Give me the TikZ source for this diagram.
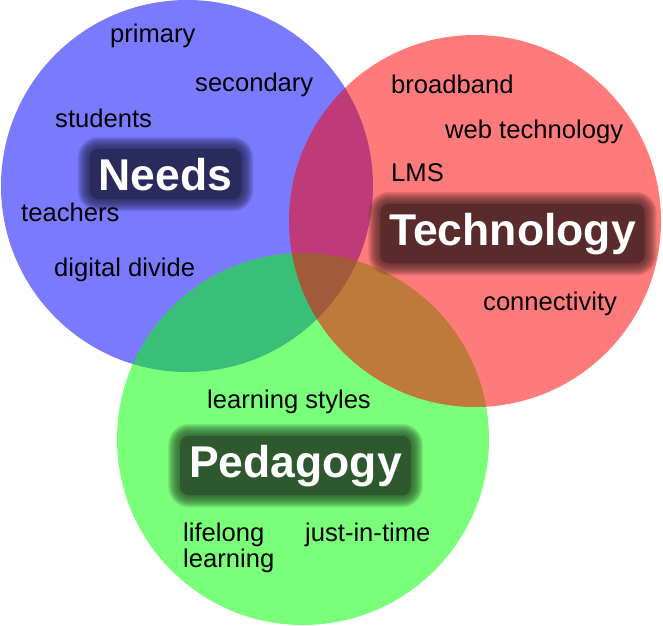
\documentclass[tikz,border=0pt]{standalone}
\usepackage{fontspec}
\setmainfont{Liberation Sans}
\usepackage{tikz}
\usetikzlibrary{calc}
\definecolor{qqqqff}{rgb}{0.,0.,1.}
\definecolor{ffqqqq}{rgb}{1.,0.,0.}
\definecolor{qqffqq}{rgb}{0.,1.,0.}
\definecolor{ddddnn}{rgb}{0.165,0.165,0.36}
\definecolor{nnddddr}{rgb}{0.35,0.17,0.17}
\definecolor{ddnnddg}{rgb}{0.18,0.35,0.18}
\newcommand{\titlefont}{\bfseries\fontsize{44.5}{50}\selectfont}
\newcommand{\glowword}[4]{%
  \foreach \g in {21,20,...,10}{%
    \node (#1\g) [anchor=base,inner sep=\g pt,rounded corners=\g pt,fill=#3,fill opacity=0.13,text opacity=0,font=\titlefont] at #2 {#4};
  }
  \node (#1core) [anchor=base,inner sep=9pt,rounded corners=9pt,fill=#3,text opacity=0,font=\titlefont] at #2 {#4};
  \node (#1) [anchor=base,inner sep=0pt,text=white,font=\titlefont] at #2 {#4};
}
\tikzstyle{every node}=[font=\fontsize{25.6}{29}\selectfont]
\tikzstyle{word}=[anchor=base west,inner sep=0pt]

\begin{document}
\begin{tikzpicture}[line cap=round,line join=round,x=1pt,y=1pt]
                \useasboundingbox (0,0) rectangle (663,625);
                \fill [color=qqqqff,fill opacity=0.52] (187,439) circle (186);
                \fill [color=qqffqq,fill opacity=0.52] (303,186) circle (186);
                \fill [color=ffqqqq,fill opacity=0.52] (475,404) circle (186);
                \glowword{needs}{(165.5,435)}{ddddnn}{Needs}
                \glowword{technology}{(512.5,380)}{nnddddr}{Technology}
                \glowword{pedagogy}{(295.5,148)}{ddnnddg}{Pedagogy}
                \node (primary) [word] at (110,582) {primary};
                \node (secondary) [word] at (195,533) {secondary};
                \node (students) [word] at (55,497) {students};
                \node (teachers) [word] at (21,404) {teachers};
                \node (divide) [word] at (54,349) {digital divide};
                \node (broadband) [word] at (391,531) {broadband};
                \node (web) [word] at (445,486) {web technology};
                \node (lms) [word] at (391,443) {LMS};
                \node (connectivity) [word] at (483,315) {connectivity};
                \node (styles) [word] at (207,217) {learning styles};
                \node (lifelong) [word] at (183,84) {lifelong};
                \node (learning) [word] at (183,58) {learning};
                \node (jit) [word] at (305,84) {just-in-time};
            \end{tikzpicture}
\end{document}
